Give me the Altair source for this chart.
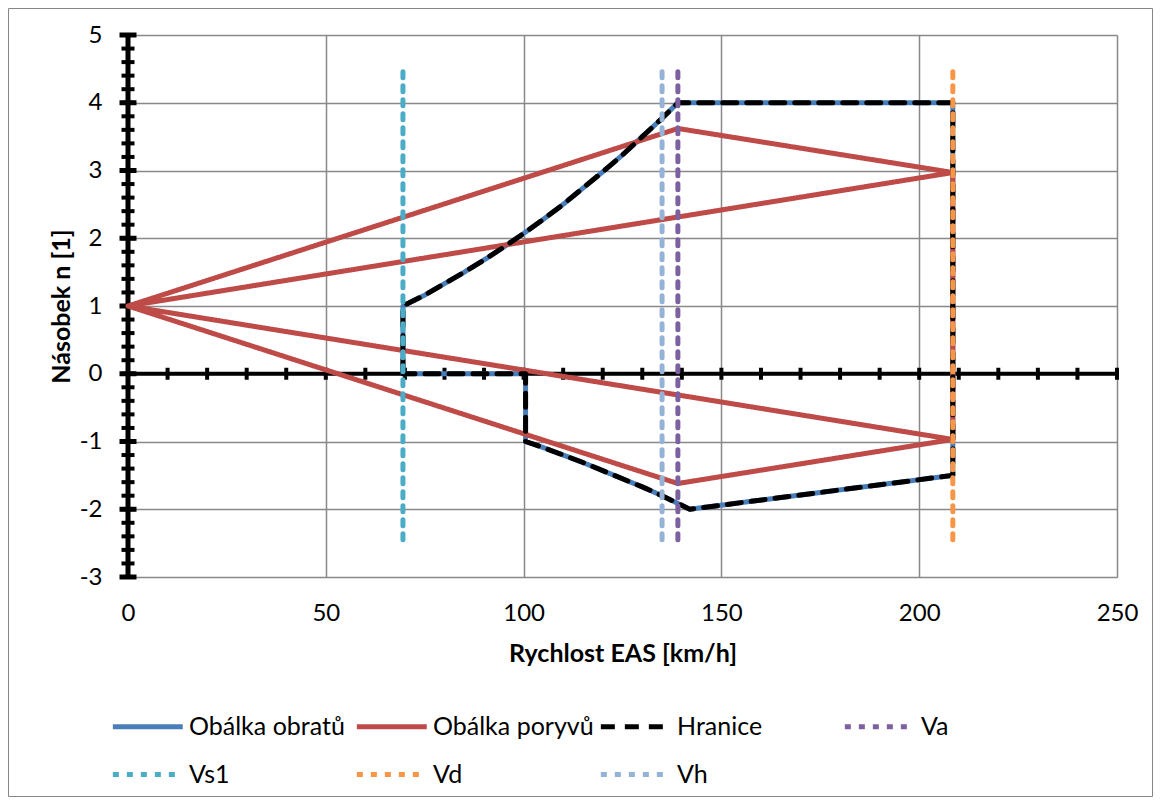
import altair as alt
import pandas as pd

FONT = "Lato"

# ---------------- data ----------------
series_names = ["Obálka obratů", "Obálka poryvů", "Hranice", "Va", "Vs1", "Vd", "Vh"]
series_colors = ["#4A7EBB", "#BE4B48", "#000000", "#7D60A0", "#4BACC6", "#F79646", "#95B3D7"]
series_dash = [[1, 0], [1, 0], [14, 10], [6, 8], [6, 8], [6, 8], [6, 8]]
series_width = [5, 5, 5, 3.5, 3.5, 3.5, 3.5]

# maneuver envelope (also used for "Hranice")
env_v = [69.5, 69.5, 75, 80, 85, 90, 95, 100, 105, 110, 115, 120, 125, 130, 135, 139,
         208.5, 208.5, 142, 135, 130, 125, 120, 115, 110, 105, 100.5, 100.5, 69.5]
env_n = [0, 1.0, 1.16, 1.33, 1.5, 1.68, 1.87, 2.07, 2.28, 2.5, 2.74, 2.98, 3.23, 3.5, 3.77, 4.0,
         4.0, -1.5, -2.0, -1.8, -1.67, -1.55, -1.43, -1.31, -1.2, -1.09, -1.0, 0, 0]

# gust envelope
gust_v = [208.5, 139, 0, 139, 208.5, 0, 208.5, 208.5]
gust_n = [2.97, 3.62, 1.0, -1.62, -0.97, 1.0, 2.97, -0.97]

# characteristic speeds (vertical lines)
speed_names = ["Va", "Vs1", "Vd", "Vh"]
speed_values = [139.0, 69.5, 208.5, 135.0]
speed_n_range = [-2.45, 4.5]

x_labels = [0, 50, 100, 150, 200, 250]
y_labels = [-3, -2, -1, 0, 1, 2, 3, 4, 5]
x_minor = list(range(0, 251, 10))
y_minor = [round(-3 + 0.2 * k, 1) for k in range(41)]

# ---------------- tables ----------------
rows = []
for name in ["Obálka obratů", "Hranice"]:
    for i, (v, n) in enumerate(zip(env_v, env_n)):
        rows.append({"series": name, "x": v, "y": n, "i": i})
for i, (v, n) in enumerate(zip(gust_v, gust_n)):
    rows.append({"series": "Obálka poryvů", "x": v, "y": n, "i": i})
for name, v in zip(speed_names, speed_values):
    for i, n in enumerate(speed_n_range):
        rows.append({"series": name, "x": v, "y": n, "i": i})
df = pd.DataFrame(rows)

W, H = 989, 542

xscale = alt.Scale(domain=[0, 250], nice=False, zero=False)
yscale = alt.Scale(domain=[-3, 5], nice=False, zero=False)


def X(field="x"):
    return alt.X(f"{field}:Q", scale=xscale,
                 axis=alt.Axis(values=x_labels, title="Rychlost EAS [km/h]",
                               labelExpr="'' + datum.value"))


def Y(field="y"):
    return alt.Y(f"{field}:Q", scale=yscale,
                 axis=alt.Axis(values=y_labels, title="Násobek n [1]",
                               labelExpr="'' + datum.value"))


# long horizontal stroke symbol: spans 0..~70px of each legend entry
legend = alt.Legend(
    orient="none", legendX=-18, legendY=677, columns=4, direction="horizontal",
    symbolType="M-1,0H5", symbolSize=543, labelFont=FONT, labelFontSize=25,
    labelColor="#000000", labelOffset=50, columnPadding=-4, rowPadding=20,
    gridAlign="all", labelLimit=400,
)

color_enc = alt.Color("series:N", scale=alt.Scale(domain=series_names, range=series_colors),
                      legend=legend, title=None)
dash_enc = alt.StrokeDash("series:N", scale=alt.Scale(domain=series_names, range=series_dash),
                          legend=legend, title=None)
width_enc = alt.StrokeWidth("series:N", scale=alt.Scale(domain=series_names, range=series_width),
                            legend=legend, title=None)

# ---------------- axis lines & crossing ticks ----------------
xaxis_df = pd.DataFrame({"x": [0], "x2": [250], "y": [0]})
yaxis_df = pd.DataFrame({"x": [0], "y": [-3], "y2": [5]})
xt_df = pd.DataFrame({"x": x_minor, "y": [0] * len(x_minor), "y2": [0] * len(x_minor)})
yt_df = pd.DataFrame({"y": y_minor, "x": [0] * len(y_minor), "x2": [0] * len(y_minor)})
ymaj_df = pd.DataFrame({"y": y_labels, "x": [0] * len(y_labels), "x2": [0] * len(y_labels)})

x_axis_line = alt.Chart(xaxis_df).mark_rule(color="#000000", strokeWidth=4).encode(
    x=X(), x2="x2", y=Y())
y_axis_line = alt.Chart(yaxis_df).mark_rule(color="#000000", strokeWidth=5).encode(
    x=X(), y=Y(), y2="y2")
x_ticks = alt.Chart(xt_df).mark_rule(color="#000000", strokeWidth=4, yOffset=-6, y2Offset=6).encode(
    x=X(), y=Y(), y2="y2")
y_ticks = alt.Chart(yt_df).mark_rule(color="#000000", strokeWidth=4, xOffset=-6.5, x2Offset=6.5).encode(
    y=Y(), x=X(), x2="x2")
y_major = alt.Chart(ymaj_df).mark_rule(color="#000000", strokeWidth=5, xOffset=-8.5, x2Offset=8.5).encode(
    y=Y(), x=X(), x2="x2")

# ---------------- series ----------------
def series_layer(name):
    return alt.Chart(df).transform_filter(alt.datum.series == name).mark_line(
        strokeCap="round", strokeJoin="round"
    ).encode(
        x=X(), y=Y(), order=alt.Order("i:Q"),
        color=color_enc, strokeDash=dash_enc, strokeWidth=width_enc,
    )

series_layers = [series_layer(n) for n in series_names]

frame = alt.Chart(pd.DataFrame({"a": [0]})).mark_rect(
    fillOpacity=0, stroke="#868686", strokeWidth=1
).encode(
    x=alt.value(-119.5), x2=alt.value(W + 35.5), y=alt.value(-26.5), y2=alt.value(H + 219.5)
)

chart = alt.layer(
    x_axis_line, y_axis_line, x_ticks, y_ticks, y_major, *series_layers, frame
).properties(
    width=W, height=H,
    autosize=alt.AutoSizeParams(type="none"),
    padding={"left": 120, "top": 27, "right": 36, "bottom": 220},
    background="#FFFFFF",
).configure_view(strokeWidth=0).configure_axis(
    grid=True, gridColor="#898989", gridWidth=1.5, domain=False, ticks=False, tickSize=0,
    labelFont=FONT, labelFontSize=24, labelColor="#000000", labelFlush=False,
    titleFont=FONT, titleFontSize=25, titleFontWeight="bold", titleColor="#000000",
).configure_axisX(labelPadding=24, titlePadding=16).configure_axisY(
    labelPadding=26, titlePadding=5
)

chart.save("out.html", embed_options={"renderer": "svg", "actions": False})
